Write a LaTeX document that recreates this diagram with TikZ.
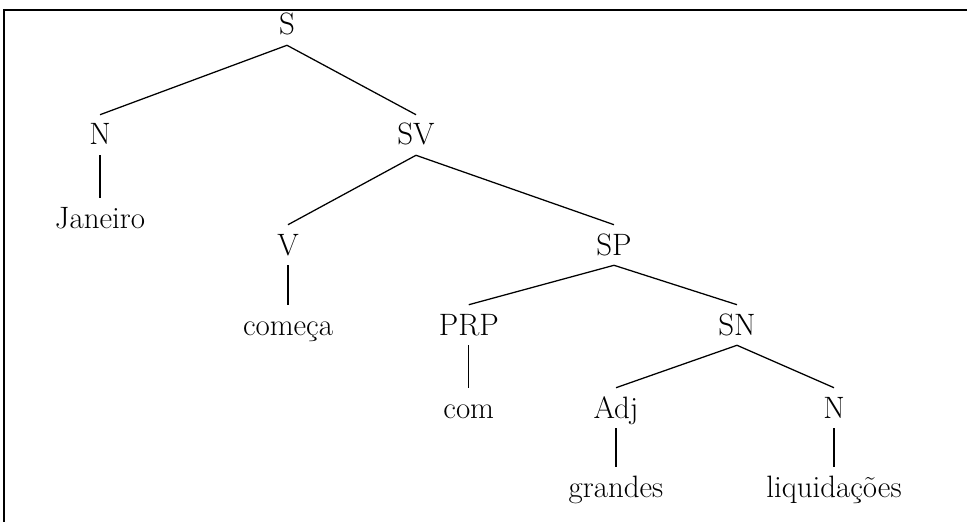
\documentclass[tikz,border=0pt]{standalone}
\usepackage{tikz}
\usetikzlibrary{calc, positioning}

\tikzset{
    cat/.style={anchor=base, inner xsep=2pt, inner ysep=0.15cm,
        text height=0.6cm, text depth=0.1cm, font=\fontsize{22}{26}\selectfont},
    ramo/.style={line width=0.9pt}
}

\begin{document}
\begin{tikzpicture}
            % 1. Moldura
            \useasboundingbox (0,0) rectangle (24.175,-13.05);
            \draw[line width=1.4pt] (0.1,-13.1) -- (0.1,-0.25) -- (24.3,-0.25);

            % 2. Categorias
            \node[cat] (s)   at (7.175,-0.875) {S};
            \node[cat] (n)   at (2.5,-3.625)   {N};
            \node[cat] (sv)  at (10.4,-3.625)  {SV};
            \node[cat] (v)   at (7.2,-6.375)   {V};
            \node[cat] (sp)  at (15.35,-6.375) {SP};
            \node[cat] (prp) at (11.72,-8.375) {PRP};
            \node[cat] (sn)  at (18.425,-8.375) {SN};
            \node[cat] (adj) at (15.4,-10.45)  {Adj};
            \node[cat] (nn)  at (20.85,-10.45) {N};

            % 3. Palavras
            \node[cat] (jan)    at (2.5,-5.7)     {Janeiro};
            \node[cat] (comeca) at (7.2,-8.375)   {começa};
            \node[cat] (com)    at (11.72,-10.45) {com};
            \node[cat] (grandes) at (15.4,-12.425) {grandes};
            \node[cat] (liq)    at (20.85,-12.425) {liquidações};

            % 4. Ramos
            \foreach \pai/\filho in {s/n, s/sv, n/jan, sv/v, sv/sp, v/comeca,
                    sp/prp, sp/sn, prp/com, sn/adj, sn/nn, adj/grandes, nn/liq} {
                \draw[ramo] (\pai.south) -- (\filho.north);
            }
        \end{tikzpicture}
\end{document}
